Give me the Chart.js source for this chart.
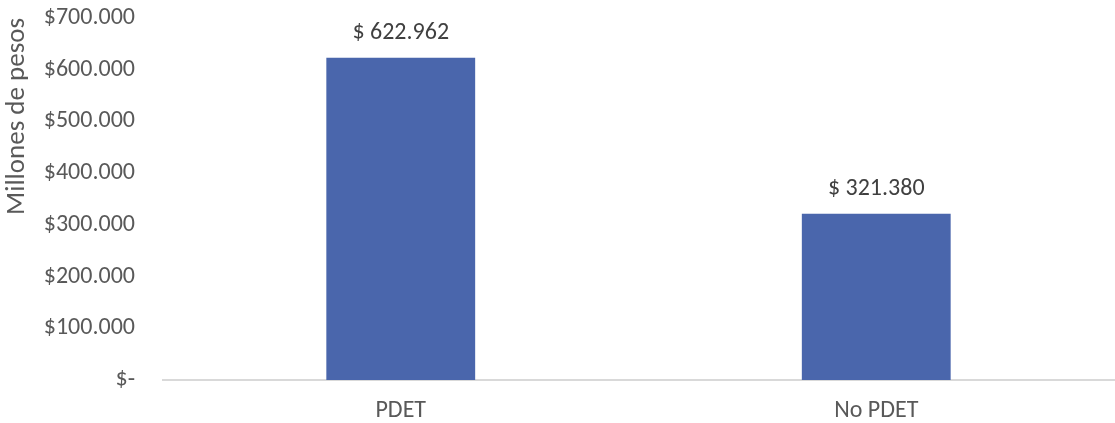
<!DOCTYPE html>
<html>
<head>
<meta charset="utf-8">
<script src="https://cdn.jsdelivr.net/npm/chart.js@4"></script>
<style>
  html, body { margin: 0; padding: 0; background: #fff; }
  #wrap { width: 1115px; height: 423px; position: relative; }
</style>
</head>
<body>
<div id="wrap"><canvas id="chart"></canvas></div>
<script>
const categories = ["PDET", "No PDET"];
const values = [622962, 321380];
const yMax = 700000;
const yStep = 100000;
const axisTitle = "Millones de pesos";

const FONT = "Carlito, 'Open Sans', sans-serif";

// 622962 -> "622.962"
function fmtThousands(v) {
  return Math.round(v).toString().replace(/\B(?=(\d{3})+(?!\d))/g, ".");
}

function tickLabel(v) {
  return v === 0 ? "$-" : "$" + fmtThousands(v);
}

// value labels above each bar
const barLabels = {
  id: "barLabels",
  afterDatasetsDraw(chart) {
    const ctx = chart.ctx;
    const meta = chart.getDatasetMeta(0);
    ctx.save();
    ctx.font = "24px " + FONT;
    ctx.fillStyle = "#404040";
    ctx.textAlign = "center";
    ctx.textBaseline = "alphabetic";
    meta.data.forEach((bar, i) => {
      ctx.fillText("$ " + fmtThousands(values[i]), bar.x, bar.y - 19);
    });
    ctx.restore();
  }
};

const ctx = document.getElementById("chart").getContext("2d");

new Chart(ctx, {
  type: "bar",
  data: {
    labels: categories,
    datasets: [{
      data: values,
      backgroundColor: "#4a66ac",
      categoryPercentage: 1,
      barPercentage: 0.313
    }]
  },
  options: {
    responsive: true,
    maintainAspectRatio: false,
    animation: false,
    layout: { padding: { top: 18, right: 1, bottom: 0, left: 0 } },
    plugins: {
      legend: { display: false },
      tooltip: { enabled: false }
    },
    scales: {
      x: {
        grid: { display: false, drawTicks: false },
        border: { color: "#d9d9d9", width: 2 },
        ticks: {
          color: "#595959",
          font: { size: 24, family: FONT },
          padding: 17
        },
        afterFit(s) { s.height = 43; }
      },
      y: {
        min: 0,
        max: yMax,
        grid: { display: false, drawTicks: false },
        border: { display: false },
        ticks: {
          stepSize: yStep,
          color: "#595959",
          font: { size: 24, family: FONT },
          padding: 28,
          callback: (v) => tickLabel(v)
        },
        title: {
          display: true,
          text: axisTitle,
          align: "end",
          color: "#595959",
          font: { size: 27, family: FONT },
          padding: { top: 1, bottom: 0 }
        },
        afterFit(s) {
          s.width = 163;
          s.paddingTop = 0;
          s.paddingBottom = 0;
        }
      }
    }
  },
  plugins: [barLabels]
});
</script>
</body>
</html>
